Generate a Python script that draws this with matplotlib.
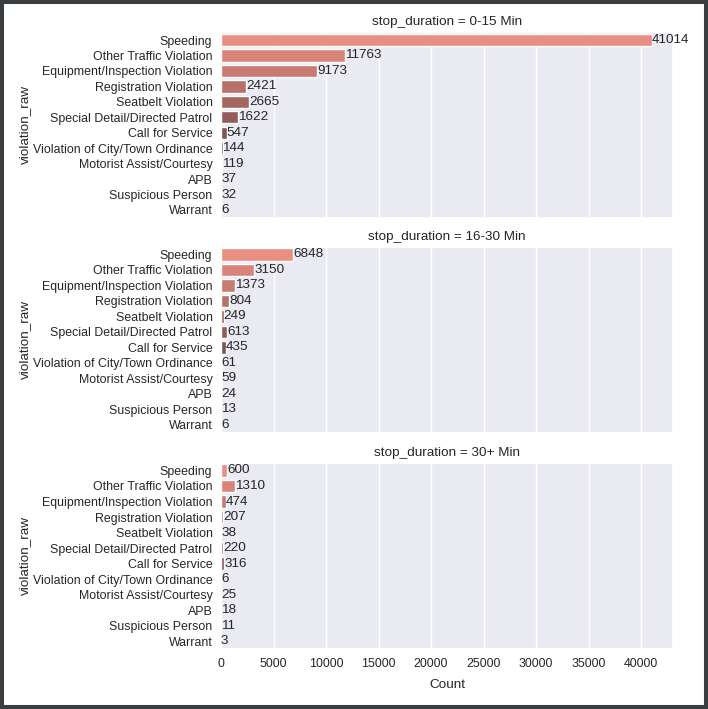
import matplotlib
matplotlib.use("Agg")
import matplotlib.pyplot as plt
import matplotlib.patches as patches
import seaborn as sns

categories = ["Speeding", "Other Traffic Violation", "Equipment/Inspection Violation",
              "Registration Violation", "Seatbelt Violation", "Special Detail/Directed Patrol",
              "Call for Service", "Violation of City/Town Ordinance", "Motorist Assist/Courtesy",
              "APB", "Suspicious Person", "Warrant"]
durations = ["0-15 Min", "16-30 Min", "30+ Min"]
counts_0_15 = [41014, 11763, 9173, 2421, 2665, 1622, 547, 144, 119, 37, 32, 6]
counts_16_30 = [6848, 3150, 1373, 804, 249, 613, 435, 61, 59, 24, 13, 6]
counts_30p = [600, 1310, 474, 207, 38, 220, 316, 6, 25, 18, 11, 3]
all_counts = [counts_0_15, counts_16_30, counts_30p]

sns.set_theme(style="darkgrid")
plt.rcParams['font.family'] = ['Liberation Sans', 'DejaVu Sans']

fig = plt.figure(figsize=(7.08, 7.09), dpi=100)
W, H = 708, 709
left, right = 221 / W, 673.3 / W
tops = [32.3, 246.7, 462.7]
bots = [217.7, 432.7, 649.0]
axes = []
for i in range(3):
    rect = [left, 1 - bots[i] / H, right - left, (bots[i] - tops[i]) / H]
    if i == 0:
        ax = fig.add_axes(rect)
    else:
        ax = fig.add_axes(rect, sharex=axes[0])
    axes.append(ax)

pal = sns.color_palette("dark:salmon_r", len(categories))
label_fs = 9.7
tick_fs = 8.9
for i, (ax, dur, vals) in enumerate(zip(axes, durations, all_counts)):
    sns.barplot(x=vals, y=categories, hue=categories, palette=pal, legend=False, ax=ax,
                order=categories, hue_order=categories)
    for c in ax.containers:
        ax.bar_label(c, fontsize=label_fs, color="#262626")
    ax.set_title(f"stop_duration = {dur}", fontsize=label_fs, pad=5)
    ax.set_ylabel("violation_raw", fontsize=label_fs)
    ax.tick_params(axis='y', labelsize=tick_fs, length=0, pad=6.2)
    ax.tick_params(axis='x', labelsize=tick_fs, length=0, pad=6.8)
    if i < 2:
        ax.tick_params(axis='x', labelbottom=False)
        ax.set_xlabel("")
    else:
        ax.set_xlabel("Count", fontsize=label_fs, labelpad=6)

axes[0].set_xlim(0, 41014 * 1.05)
axes[0].set_xticks(range(0, 40001, 5000))
for ax in axes:
    ax.yaxis.set_label_coords(-0.421, 0.5)

fig.patches.append(patches.Rectangle((0, 0), 1, 1, transform=fig.transFigure, fill=False,
                                     edgecolor="#3b3e41", linewidth=5.8))
fig.savefig("out.png", dpi=100)
